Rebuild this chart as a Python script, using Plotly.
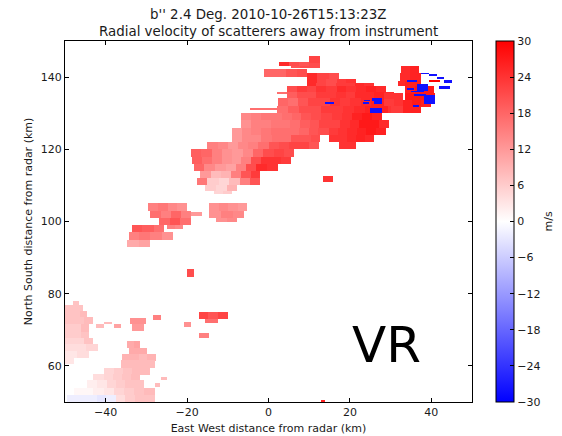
import numpy as np
import plotly.graph_objects as go

TITLE_LINES = ["b'' 2.4 Deg. 2010-10-26T15:13:23Z", "Radial velocity of scatterers away from instrument"]
X_LABEL = "East West distance from radar (km)"
Y_LABEL = "North South distance from radar (km)"
X_TICKS = [-40, -20, 0, 20, 40]
Y_TICKS = [60, 80, 100, 120, 140]
CBAR_TICKS = [-30, -24, -18, -12, -6, 0, 6, 12, 18, 24, 30]

# (y centre km, row height km, x start km, x end km, velocities m/s along the row)
MAIN_ECHO = [
    (144.9, 1.6, 10, 12.7, [22]),
    (143.6, 1.4, 2.6, 10, [25, 21, 20]), (143.3, 1.6, 10, 12.7, [21]),
    (142.7, 0.6, 5.5, 10, [20, 21]),
    (141.2, 2.2, -0.9, 9.5, [18, 18, 20, 21]),
    (140.3, 1.4, 9.5, 17.3, [25, 22, 21]),
    (139, 1, 9.5, 21.4, [25, 22, 21, 23, 24]),
    (138, 1.2, 9.5, 25.9, [25, 22, 21, 23, 23, 25, 24]),
    (136.5, 1.8, 4.6, 28.8, [21, 23, 22, 24, 23, 25, 24, 25, 26, 25]),
    (135.6, 0.6, 1.9, 4.6, [17]),
    (135, 1.6, 4.6, 30.8, [19, 21, 21, 23, 23, 24, 23, 25, 25, 26, 25]),
    (133, 2.4, 2.2, 32.9, [18, 17, 20, 22, 22, 24, 23, 24, 25, 26, 26, 24]),
    (131.2, 0.8, -4.6, 2.2, [17, 17]),
    (131, 2, 2, 32, [17, 19, 21, 21, 23, 23, 24, 25, 26, 26, 24]),
    (129, 2, -6.8, 28, [14, 15, 16, 16, 17, 18, 20, 21, 22, 23, 24, 26, 27, 26]),
    (127, 2, -6.8, 29.6, [13, 15, 15, 16, 16, 17, 19, 20, 22, 22, 24, 25, 27, 27, 25]),
    (125, 2, -8.9, 28.8, [12, 14, 15, 16, 17, 17, 17, 18, 20, 21, 23, 24, 25, 26, 27, 26]),
    (123, 2, -8.9, 12.8, [12, 14, 14, 16, 17, 17, 20, 20, 21]),
    (123, 2, 14.7, 26, [24, 24, 25, 26, 25]),
    (121, 2, -15, 12.4, [15, 14, 12, 14, 15, 17, 20, 21, 22, 22, 20]),
    (121, 2, 17.3, 21.4, [24, 24]),
    (119, 2, -19, 6.3, [19, 18, 15, 13, 12, 14, 18, 21, 22, 21]),
    (117, 2, -18.7, 5.4, [19, 17, 15, 13, 12, 15, 21, 24, 24, 23]),
    (115, 2, -18.3, 2.2, [18, 14, 12, 11, 15, 21, 25, 24]),
    (113, 2, -16.7, -1.9, [12, 8, 9, 15, 20, 23]),
    (111, 2, -17.5, -1.9, [16, 6, 5, 8, 15, 20]),
    (109.3, 1.4, -15.5, -7.7, [6, 5, 9]),
    (108.2, 0.8, -13.5, -9, [5, 6]),
    (111.8, 1.6, 13.6, 15.7, [24]),
]
# right-hand block and the neck that joins it
RIGHT_ECHO = [
    (142, 2, 32.5, 37, [25, 26]),
    (140, 2, 32.3, 37.4, [25, 26]),
    (138.3, 1.6, 31.7, 37.4, [25, 26, 26]),
    (136.4, 2, 33.5, 40.7, [26, 27, 27]),
    (134.6, 2, 33.5, 41, [27, 27, 27]),
    (132.7, 2, 32.9, 39.9, [26, 27, 26]),
    (130.9, 2, 32.5, 37.4, [26, 26]),
    (134.8, 1.6, 28.4, 33, [24, 24]),
    (133, 2, 28.4, 33, [23, 24]),
    (131, 2, 30, 33, [23]),
    (139, 0.7, 39.5, 42.3, [30]),
]
# small echoes in the middle of the scan
MID_ECHO = [
    (104, 2, -29.6, -20, [15, 16, 14, 13]),
    (102, 2, -29, -19, [17, 15, 18, 15]),
    (102, 0.8, -19, -16.3, [12]),
    (100, 2, -26.9, -19.1, [18, 20, 17]),
    (98.5, 1, -25, -21, [15, 14]),
    (98, 2, -33.5, -25.7, [20, 19, 17]),
    (96, 2, -34.3, -23.6, [15, 16, 15, 13]),
    (94, 2, -34.7, -29, [10, 11]),
    (104, 2, -14.6, -5.2, [13, 14, 13, 12]),
    (102, 2, -14.6, -6, [13, 15, 14]),
    (100.4, 1.2, -13, -7.7, [13, 14]),
    (85.8, 2, -20, -18.2, [21]),
    (74, 2, -17, -10.1, [22, 20, 22]),
    (72.4, 1.4, -15.4, -12.6, [17]),
    (68.5, 1.3, -17, -14.5, [15]),
    (71.5, 1.6, -20.8, -19, [13]),
    (73.4, 1.2, -28.4, -26.5, [15]),
    (72.4, 1.8, -33.9, -30, [13, 13]),
    (70.6, 1.8, -33.5, -30.5, [12]),
    (71, 1, -38, -36.2, [11]),
    (71.9, 0.8, -40.5, -38.4, [8]),
    (71, 1, -42.5, -40.5, [8]),
    (50.25, 0.5, 13, 14, [26]),
]
# weak echoes in the lower-left corner
LOWER_LEFT_ECHO = [
    (77.6, 1, -48, -46.5, [7]),
    (76, 2, -50, -45.5, [7, 7]),
    (74.3, 2, -50, -44.5, [7, 7, 8]),
    (72.5, 2, -50, -43, [7, 7, 8]),
    (70.5, 2, -50, -44, [6, 6, 8]),
    (68.5, 2, -50, -44, [6, 6, 7]),
    (66.7, 2, -50, -43, [5, 5, 7]),
    (65, 2, -50, -42, [4, 4, 5]),
    (63.2, 2, -50, -44, [3, 4]),
    (61.4, 2, -50, -47.8, [3]),
    (66, 2, -34.7, -31.4, [10, 11]),
    (64.1, 2, -34.3, -29.8, [10, 10]),
    (62.3, 2, -35.9, -27.7, [9, 9, 8, 9]),
    (60.4, 2, -36.3, -28.1, [8, 8, 8, 8]),
    (58.6, 2, -40.4, -29, [5, 6, 7, 8, 8]),
    (56.7, 2, -42.9, -31.4, [4, 5, 6, 7, 8]),
    (54.9, 2, -44.5, -30.6, [2, 3, 5, 6, 7, 7]),
    (53, 2, -47.8, -28.1, [1, 1, 2, 3, 5, 6, 7, 8]),
    (51, 2.2, -49.5, -28.1, [-2, -2, -2, -3, -2, 4, 6, 7, 7]),
    (56.5, 1, -26.5, -25, [8]),
    (54.8, 1, -28, -26.7, [8]),
]
# folded (strongly negative) velocities
FOLDED_ECHO = [
    (132.7, 0.5, 14, 16.1, [-28]),
    (134, 0.75, 25.5, 28, [-28]),
    (133, 0.75, 25.9, 28, [-28]),
    (130.8, 1.5, 25.1, 28, [-28]),
    (133.6, 0.5, 23.5, 25.1, [-28]),
    (132.7, 0.5, 23.3, 24.8, [-28]),
    (141, 0.5, 37.4, 39.5, [-28]),
    (140.5, 0.5, 39.5, 41.5, [-28]),
    (139.8, 0.5, 41.5, 43, [-28]),
    (138.8, 1, 43, 45, [-28]),
    (137.1, 1.8, 36.4, 39.2, [-28]),
    (133.8, 2.5, 38.2, 41, [-28]),
    (139, 0.5, 34.1, 36.6, [-28]),
    (136.8, 0.5, 34, 35.8, [-28]),
    (135.9, 0.5, 35, 38.2, [-28]),
    (135, 0.5, 35.8, 38.7, [-28]),
    (132, 0.5, 35.4, 37, [-28]),
    (137.2, 0.75, 41.9, 44.4, [-28]),
]
SCALE_NOTE = "VR"
CBAR_LABEL = "m/s"


def paint(grid, xs, ys, rows):
    for yc, h, x0, x1, vals in rows:
        edges = np.linspace(x0, x1, len(vals) + 1)
        ymask = (ys >= yc - h / 2) & (ys < yc + h / 2)
        for k, v in enumerate(vals):
            xmask = (xs >= edges[k]) & (xs < edges[k + 1])
            grid[np.ix_(ymask, xmask)] = v


xs = np.arange(-49.875, 50, 0.25)
ys = np.arange(50.125, 150, 0.25)
z = np.full((len(ys), len(xs)), np.nan)
for rows in (LOWER_LEFT_ECHO, MID_ECHO, MAIN_ECHO, RIGHT_ECHO, FOLDED_ECHO):
    paint(z, xs, ys, rows)

FONT = "DejaVu Sans"
INK = "#1a1a1a"
fig = go.Figure(go.Heatmap(
    x=xs, y=ys, z=z, zmin=-30, zmax=30, hoverongaps=False,
    colorscale=[[0, "#0000ff"], [0.5, "#ffffff"], [1, "#ff0000"]],
    colorbar=dict(
        thickness=18, thicknessmode="pixels", len=1, lenmode="fraction",
        x=1.059, xanchor="left", y=0, yanchor="bottom", ypad=0, xpad=0,
        outlinecolor="black", outlinewidth=1,
        tickmode="array", tickvals=CBAR_TICKS, ticks="inside", ticklen=4,
        tickcolor="black", tickfont=dict(family=FONT, size=11, color=INK),
    ),
))
axis = dict(showgrid=False, zeroline=False, showline=True, linecolor="black", linewidth=1,
            mirror="ticks", ticks="inside", ticklen=4, tickcolor="black",
            tickfont=dict(family=FONT, size=11, color=INK))
fig.update_xaxes(range=[-50, 50], tickvals=X_TICKS,
                 title=dict(text=X_LABEL, font=dict(family=FONT, size=11, color=INK), standoff=6), **axis)
fig.update_yaxes(range=[50, 150], tickvals=Y_TICKS,
                 title=dict(text=Y_LABEL, font=dict(family=FONT, size=11, color=INK), standoff=5), **axis)
title_font = dict(family=FONT, size=13.4, color=INK)
fig.update_layout(
    width=562, height=436, margin=dict(l=65, r=90, t=41, b=34, autoexpand=False),
    paper_bgcolor="white", plot_bgcolor="white",
    annotations=[
        dict(x=0.5, y=1, xref="paper", yref="paper", xanchor="center", yanchor="bottom", yshift=17,
             text=TITLE_LINES[0], showarrow=False, font=title_font),
        dict(x=0.5, y=1, xref="paper", yref="paper", xanchor="center", yanchor="bottom", yshift=0,
             text=TITLE_LINES[1], showarrow=False, font=title_font),
        dict(x=1.189, y=0.5, xref="paper", yref="paper", xanchor="center", yanchor="middle",
             text=CBAR_LABEL, textangle=-90, showarrow=False,
             font=dict(family=FONT, size=11, color=INK)),
        dict(x=20, y=60, xref="x", yref="y", xanchor="left", yanchor="bottom", yshift=-10,
             text=SCALE_NOTE, showarrow=False, font=dict(family=FONT, size=50, color="black")),
    ],
)
fig.write_html("out.html", config={"displayModeBar": False},
               post_script="document.body.style.margin='0';document.documentElement.style.overflow='hidden';")
